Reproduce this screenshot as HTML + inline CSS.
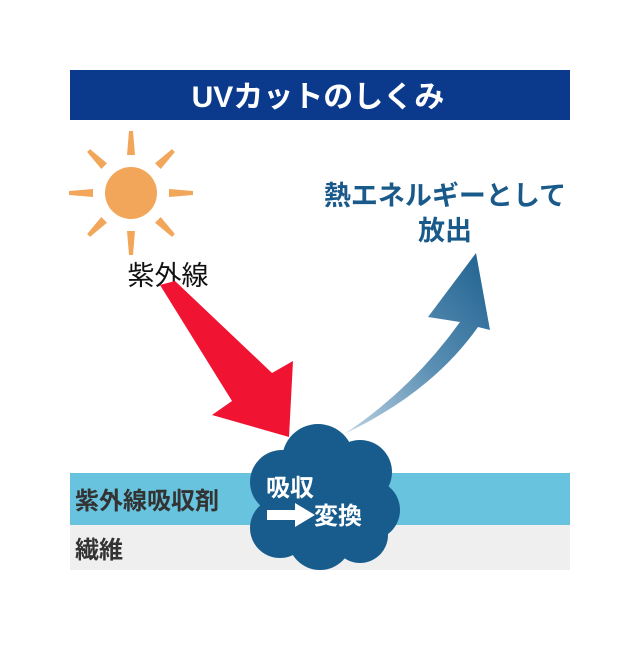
<!DOCTYPE html>
<html><head><meta charset="utf-8"><style>
body{margin:0;background:#fff;}
svg text{font-family:"Liberation Sans","Noto Sans CJK JP",sans-serif;}
</style></head><body>
<svg width="640" height="640" viewBox="0 0 640 640" xmlns="http://www.w3.org/2000/svg">
<defs>
<linearGradient id="bg" x1="0" y1="1" x2="1" y2="0">
<stop offset="0" stop-color="#c5d8e6"/>
<stop offset="0.5" stop-color="#5a8fb3"/>
<stop offset="1" stop-color="#1f6190"/>
</linearGradient>
</defs>
<rect x="0" y="0" width="640" height="640" fill="#fff"/>
<rect x="70" y="70" width="500" height="50" fill="#0b3a8c"/>
<text x="318" y="107" font-size="30" font-weight="bold" fill="#fff" text-anchor="middle">UVカットのしくみ</text>
<g fill="#f2a65a">
<circle cx="131" cy="193" r="26"/>
<g transform="translate(131,193)">
<polygon points="-4,-38 4,-38 2,-62 -2,-62"/>
<polygon points="-4,38 4,38 2,62 -2,62"/>
<polygon points="-38,-4 -38,4 -62,2 -62,-2"/>
<polygon points="38,-4 38,4 62,2 62,-2"/>
<g transform="rotate(45)"><polygon points="-4,-38 4,-38 2,-60 -2,-60"/><polygon points="-4,38 4,38 2,60 -2,60"/></g>
<g transform="rotate(-45)"><polygon points="-4,-38 4,-38 2,-60 -2,-60"/><polygon points="-4,38 4,38 2,60 -2,60"/></g>
</g>
</g>
<text x="168" y="285" font-size="27" fill="#111" text-anchor="middle">紫外線</text>
<text x="445" y="205" font-size="27" font-weight="bold" fill="#1a5a8a" text-anchor="middle">熱エネルギーとして</text>
<text x="445" y="240" font-size="27" font-weight="bold" fill="#1a5a8a" text-anchor="middle">放出</text>
<rect x="70" y="473" width="500" height="52" fill="#67c3de"/>
<rect x="70" y="525" width="500" height="45" fill="#efefef"/>
<text x="75" y="509" font-size="24" font-weight="bold" fill="#333">紫外線吸収剤</text>
<text x="75" y="558" font-size="24" font-weight="bold" fill="#333">繊維</text>
<polygon points="160,285 175,281 272,373 293,361 289,437 212,415 232,401" fill="#f01432"/>
<path d="M338,438 Q410,392 460,322 L428,317 L476,253 L490,330 L478,327 Q432,392 346,433 Z" fill="url(#bg)"/>
<g fill="#175c8c">
<circle cx="322" cy="500" r="60"/>
<circle cx="318" cy="460" r="36"/>
<circle cx="360" cy="472" r="32"/>
<circle cx="282" cy="482" r="32"/>
<circle cx="370" cy="510" r="30"/>
<circle cx="280" cy="528" r="30"/>
<circle cx="320" cy="538" r="32"/>
<circle cx="360" cy="535" r="28"/>
</g>
<text x="266" y="496" font-size="24" font-weight="bold" fill="#fff">吸収</text>
<polygon points="267,510 295,510 295,503 315,515 295,527 295,520 267,520" fill="#fff"/>
<text x="314" y="524" font-size="24" font-weight="bold" fill="#fff">変換</text>
</svg>
</body></html>
